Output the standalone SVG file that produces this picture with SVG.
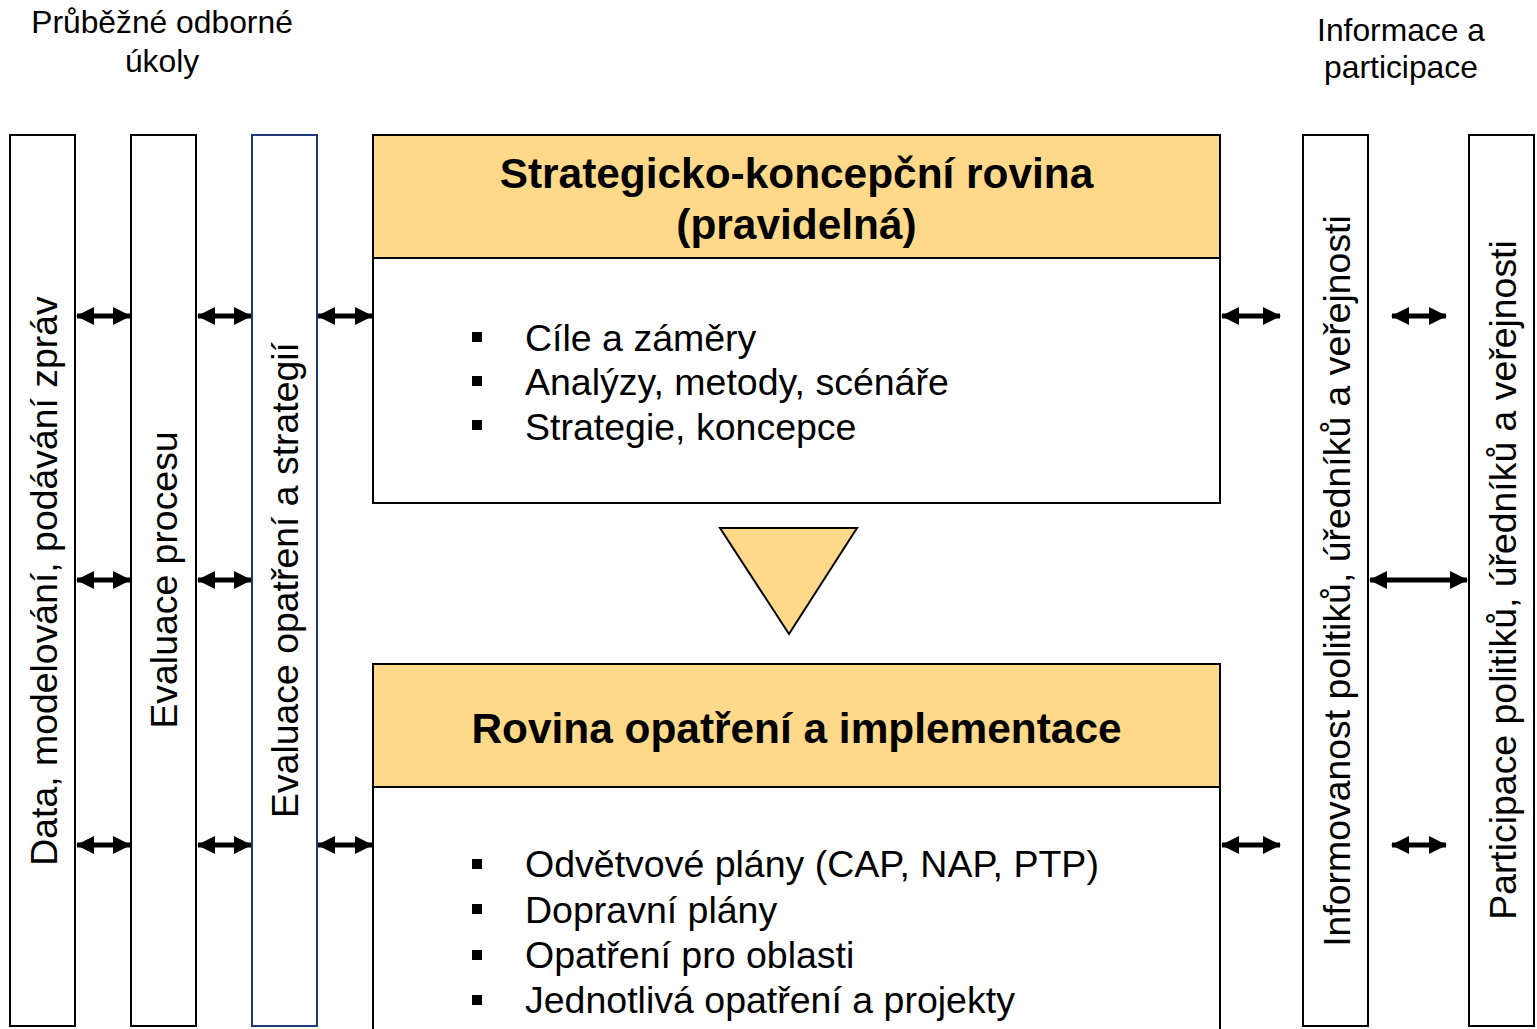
<svg xmlns="http://www.w3.org/2000/svg" width="1537" height="1029" viewBox="0 0 1537 1029">
  <defs>
    <marker id="head" viewBox="0 0 18 18" refX="17" refY="9" markerWidth="18" markerHeight="18" markerUnits="userSpaceOnUse" orient="auto-start-reverse">
      <path d="M0,0 L18,9 L0,18 Z" fill="#000"/>
    </marker>
  </defs>
  <style>
    text { font-family: "Liberation Sans", Arial, sans-serif; fill: #000; }
    .col { fill: #fff; stroke: #000; stroke-width: 2; }
    .col-blue { fill: #fff; stroke: #1f3a7a; stroke-width: 2; }
    .panel { fill: #fff; stroke: #000; stroke-width: 2; }
    .head { fill: #ffd98a; stroke: #000; stroke-width: 2; }
    .vlabel { font-size: 37.4px; text-anchor: middle; }
    .title { font-size: 42.4px; font-weight: bold; text-anchor: middle; }
    .item { font-size: 37.5px; }
    .caption { font-size: 31.8px; text-anchor: middle; }
    .link { stroke: #000; stroke-width: 5; fill: none; marker-start: url(#head); marker-end: url(#head); }
  </style>

  <!-- Group captions -->
  <g id="caption-left">
    <text class="caption" x="162" y="33">Průběžné odborné</text>
    <text class="caption" x="162" y="72">úkoly</text>
  </g>
  <g id="caption-right">
    <text class="caption" x="1401" y="41">Informace a</text>
    <text class="caption" x="1401" y="78">participace</text>
  </g>

  <!-- Left columns -->
  <g id="col-data">
    <rect class="col" x="10" y="135" width="65" height="891"/>
    <text class="vlabel" transform="translate(57,581) rotate(-90)">Data, modelování, podávání zpráv</text>
  </g>
  <g id="col-process">
    <rect class="col" x="131" y="135" width="65" height="891"/>
    <text class="vlabel" transform="translate(177,580) rotate(-90)">Evaluace procesu</text>
  </g>
  <g id="col-measures">
    <rect class="col-blue" x="252" y="135" width="65" height="891"/>
    <text class="vlabel" transform="translate(298,580) rotate(-90)">Evaluace opatření a strategií</text>
  </g>

  <!-- Strategic level -->
  <g id="strategic">
    <rect class="panel" x="373" y="135" width="847" height="368"/>
    <rect class="head" x="373" y="135" width="847" height="123"/>
    <text class="title" x="796.5" y="188">Strategicko-koncepční rovina</text>
    <text class="title" x="796.5" y="239">(pravidelná)</text>
    <rect x="472" y="332" width="10" height="10"/>
    <rect x="472" y="376" width="10" height="10"/>
    <rect x="472" y="420" width="10" height="10"/>
    <text class="item" x="525" y="351">Cíle a záměry</text>
    <text class="item" x="525" y="395">Analýzy, metody, scénáře</text>
    <text class="item" x="525" y="440">Strategie, koncepce</text>
  </g>

  <!-- Flow marker between levels -->
  <g id="flow-down">
    <polygon points="720,528 857,528 789,634" fill="#ffd98a" stroke="#000" stroke-width="2"/>
  </g>

  <!-- Implementation level -->
  <g id="implementation">
    <rect class="panel" x="373" y="664" width="847" height="380"/>
    <rect class="head" x="373" y="664" width="847" height="123"/>
    <text class="title" x="796.5" y="743">Rovina opatření a implementace</text>
    <rect x="472" y="859" width="10" height="10"/>
    <rect x="472" y="904" width="10" height="10"/>
    <rect x="472" y="950" width="10" height="10"/>
    <rect x="472" y="995" width="10" height="10"/>
    <text class="item" x="525" y="877">Odvětvové plány (CAP, NAP, PTP)</text>
    <text class="item" x="525" y="923">Dopravní plány</text>
    <text class="item" x="525" y="968">Opatření pro oblasti</text>
    <text class="item" x="525" y="1013">Jednotlivá opatření a projekty</text>
  </g>

  <!-- Right columns -->
  <g id="col-informed">
    <rect class="col" x="1303" y="135" width="65" height="891"/>
    <text class="vlabel" transform="translate(1350,581) rotate(-90)">Informovanost politiků, úředníků a veřejnosti</text>
  </g>
  <g id="col-participation">
    <rect class="col" x="1469" y="135" width="65" height="891"/>
    <text class="vlabel" transform="translate(1516,580) rotate(-90)">Participace politiků, úředníků a veřejnosti</text>
  </g>

  <!-- Connectors -->
  <g id="connectors">
    <line class="link" x1="77" y1="316" x2="130" y2="316"/>
    <line class="link" x1="77" y1="580" x2="130" y2="580"/>
    <line class="link" x1="77" y1="845" x2="130" y2="845"/>
    <line class="link" x1="198" y1="316" x2="251" y2="316"/>
    <line class="link" x1="198" y1="580" x2="251" y2="580"/>
    <line class="link" x1="198" y1="845" x2="251" y2="845"/>
    <line class="link" x1="318" y1="316" x2="372" y2="316"/>
    <line class="link" x1="318" y1="845" x2="372" y2="845"/>
    <line class="link" x1="1222" y1="316" x2="1280" y2="316"/>
    <line class="link" x1="1222" y1="845" x2="1280" y2="845"/>
    <line class="link" x1="1392" y1="316" x2="1446" y2="316"/>
    <line class="link" x1="1392" y1="845" x2="1446" y2="845"/>
    <line class="link" x1="1370" y1="580" x2="1467" y2="580"/>
  </g>
</svg>
